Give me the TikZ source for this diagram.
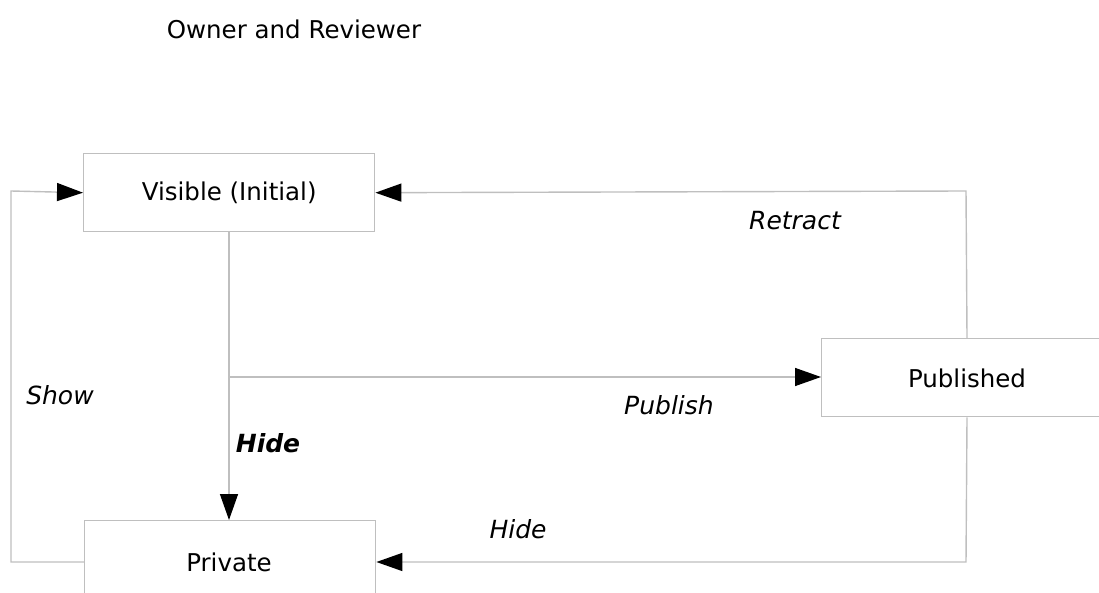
\documentclass[tikz,border=0pt]{standalone}
\usepackage{fontspec}
\setmainfont{DejaVu Sans}
\usetikzlibrary{arrows.meta}
\begin{document}
\begin{tikzpicture}[x=1pt,y=-1pt,
  txt/.style={font=\fontsize{24.5}{28}\selectfont},
  state/.style={draw=black!25,line width=1.4pt,minimum width=291pt,minimum height=78pt,inner sep=0pt,txt,anchor=north west},
  flow/.style={draw=black!25,line width=1.4pt,-{Triangle[length=26pt,width=18pt,black]}},
  lbl/.style={font=\fontsize{25}{28}\selectfont\itshape}]
\useasboundingbox (0,0) rectangle (1099,593);
\clip (0,0) rectangle (1099,593);
\node[txt] (title) at (294,29) {Owner and Reviewer};
\node[state] (vis) at (83,153) {Visible (Initial)};
\node[state] (pub) at (821,338) {};
\node[txt] (publbl) at (967,378) {Published};
\node[state,minimum height=100pt] (priv) at (84,520) {};
\node[txt] (privlbl) at (229,562) {Private};
\coordinate (fork) at (229,377);
% Show: Private back to Visible
\draw[flow] (priv.west |- privlbl) -- (11,562) -- (11,191) -- (vis.west);
% Hide: Visible down to Private
\draw[flow] (vis.south -| fork) -- (priv.north -| fork);
% Publish
\draw[flow] (fork) -- (pub.west |- fork);
% Retract
\draw[flow] (pub.north -| publbl) -- (966,191) -- (vis.east);
% Hide from Published
\draw[flow] (pub.south -| publbl) -- (966,562) -- (priv.east |- privlbl);
\node[lbl] (show) at (60,395) {Show};
\node[lbl,font=\fontsize{25}{28}\selectfont\bfseries\itshape] (hide1) at (268,443) {Hide};
\node[lbl] (publish) at (669,405) {Publish};
\node[lbl] (retract) at (795,221) {Retract};
\node[lbl] (hide2) at (518,529) {Hide};
\end{tikzpicture}
\end{document}
